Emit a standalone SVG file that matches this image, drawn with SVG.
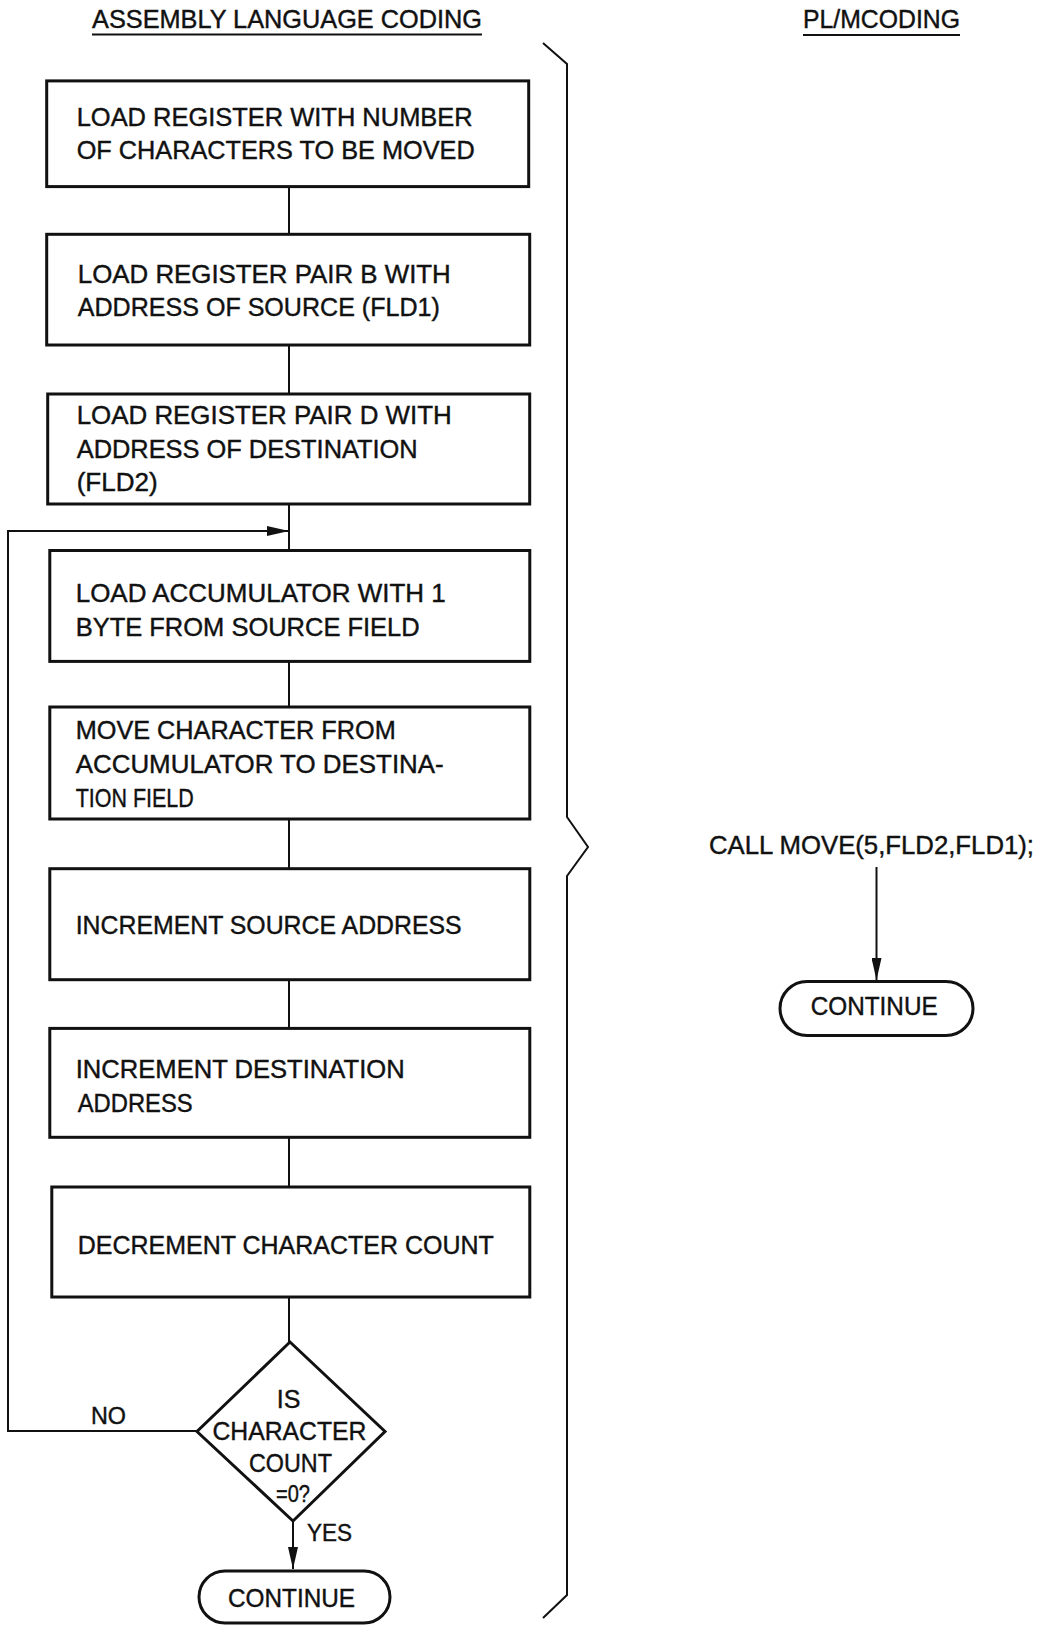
<svg xmlns="http://www.w3.org/2000/svg" width="1045" height="1625" viewBox="0 0 1045 1625">
<defs>
<style>
text{font-family:"Liberation Sans","DejaVu Sans",sans-serif;font-size:25px;fill:#111;stroke:#111;stroke-width:0.4;}
.s{font-size:23px;}
.box{fill:#fff;stroke:#111;stroke-width:3;}
.term{fill:#fff;stroke:#111;stroke-width:3;}
.conn{fill:none;stroke:#111;stroke-width:2;}
.brace{fill:none;stroke:#111;stroke-width:2;}
.ul{stroke:#111;stroke-width:2;}
.c{text-anchor:middle;}
</style>
<marker id="ah" viewBox="0 0 22 10" refX="22" refY="5" markerWidth="22" markerHeight="10" markerUnits="userSpaceOnUse" orient="auto">
<path d="M0,0 L22,5 L0,10 Z" fill="#111"/>
</marker>
</defs>
<rect width="1045" height="1625" fill="#fff"/>

<g id="titles">
<text x="92" y="28" textLength="390" lengthAdjust="spacingAndGlyphs">ASSEMBLY LANGUAGE CODING</text>
<line class="ul" x1="92" y1="34.5" x2="482" y2="34.5"/>
<text x="803" y="28" textLength="157" lengthAdjust="spacingAndGlyphs">PL/MCODING</text>
<line class="ul" x1="803" y1="35" x2="960" y2="35"/>
</g>

<g id="connectors">
<line class="conn" x1="289" y1="186.6" x2="289" y2="234.3"/>
<line class="conn" x1="289" y1="345" x2="289" y2="394"/>
<line class="conn" x1="289" y1="504" x2="289" y2="550.5"/>
<line class="conn" x1="289" y1="661.4" x2="289" y2="707"/>
<line class="conn" x1="289" y1="819" x2="289" y2="868.7"/>
<line class="conn" x1="289" y1="979.7" x2="289" y2="1028.4"/>
<line class="conn" x1="289" y1="1137.3" x2="289" y2="1187"/>
<line class="conn" x1="289" y1="1297" x2="289" y2="1342"/>
<polyline class="conn" points="197,1431 8,1431 8,531 289,531" marker-end="url(#ah)"/>
<line class="conn" x1="293" y1="1521" x2="293" y2="1569" marker-end="url(#ah)"/>
<line class="conn" x1="876.5" y1="867" x2="876.5" y2="980" marker-end="url(#ah)"/>
<text class="s" x="91" y="1424" textLength="35" lengthAdjust="spacingAndGlyphs">NO</text>
<text class="s" x="307" y="1541" textLength="45" lengthAdjust="spacingAndGlyphs">YES</text>
</g>

<g id="brace">
<polyline class="brace" points="543,43 567,64 567,817 588,847 567,876 567,1595 543,1618"/>
</g>

<g id="n1">
<rect class="box" x="46.7" y="80.9" width="482" height="105.7"/>
<text x="76.7" y="125.5" textLength="396" lengthAdjust="spacingAndGlyphs">LOAD REGISTER WITH NUMBER</text>
<text x="76.7" y="158.6" textLength="398" lengthAdjust="spacingAndGlyphs">OF CHARACTERS TO BE MOVED</text>
</g>
<g id="n2">
<rect class="box" x="46.7" y="234.3" width="483" height="110.7"/>
<text x="77.8" y="283" textLength="373" lengthAdjust="spacingAndGlyphs">LOAD REGISTER PAIR B WITH</text>
<text x="77.8" y="316" textLength="362" lengthAdjust="spacingAndGlyphs">ADDRESS OF SOURCE (FLD1)</text>
</g>
<g id="n3">
<rect class="box" x="47.7" y="394" width="482" height="110"/>
<text x="76.7" y="424" textLength="375" lengthAdjust="spacingAndGlyphs">LOAD REGISTER PAIR D WITH</text>
<text x="76.7" y="458" textLength="341" lengthAdjust="spacingAndGlyphs">ADDRESS OF DESTINATION</text>
<text x="76.7" y="491" textLength="81" lengthAdjust="spacingAndGlyphs">(FLD2)</text>
</g>
<g id="n4">
<rect class="box" x="49.8" y="550.5" width="480" height="110.9"/>
<text x="75.7" y="602" textLength="370" lengthAdjust="spacingAndGlyphs">LOAD ACCUMULATOR WITH 1</text>
<text x="75.7" y="635.5" textLength="344" lengthAdjust="spacingAndGlyphs">BYTE FROM SOURCE FIELD</text>
</g>
<g id="n5">
<rect class="box" x="49.8" y="707" width="480" height="112"/>
<text x="75.7" y="739" textLength="320" lengthAdjust="spacingAndGlyphs">MOVE CHARACTER FROM</text>
<text x="75.7" y="773" textLength="368" lengthAdjust="spacingAndGlyphs">ACCUMULATOR TO DESTINA-</text>
<text x="75.7" y="806.5" textLength="118" lengthAdjust="spacingAndGlyphs">TION FIELD</text>
</g>
<g id="n6">
<rect class="box" x="49.8" y="868.7" width="480" height="111"/>
<text x="75.7" y="934" textLength="386" lengthAdjust="spacingAndGlyphs">INCREMENT SOURCE ADDRESS</text>
</g>
<g id="n7">
<rect class="box" x="49.8" y="1028.4" width="480" height="108.9"/>
<text x="75.7" y="1078" textLength="329" lengthAdjust="spacingAndGlyphs">INCREMENT DESTINATION</text>
<text x="77.7" y="1112" textLength="115" lengthAdjust="spacingAndGlyphs">ADDRESS</text>
</g>
<g id="n8">
<rect class="box" x="51.8" y="1187" width="478" height="110"/>
<text x="77.8" y="1254" textLength="416" lengthAdjust="spacingAndGlyphs">DECREMENT CHARACTER COUNT</text>
</g>
<g id="decision">
<polygon class="box" points="290,1342 385,1431.5 293,1521 197,1431.5"/>
<text class="c" x="288.5" y="1408">IS</text>
<text class="c" x="289.5" y="1440" textLength="154" lengthAdjust="spacingAndGlyphs">CHARACTER</text>
<text class="c" x="290.5" y="1471.5" textLength="83" lengthAdjust="spacingAndGlyphs">COUNT</text>
<text class="c s" x="293" y="1501.5" textLength="34" lengthAdjust="spacingAndGlyphs">=0?</text>
</g>
<g id="end-asm">
<rect class="term" x="199" y="1571" width="191" height="52" rx="26" ry="26"/>
<text x="228" y="1607" textLength="127" lengthAdjust="spacingAndGlyphs">CONTINUE</text>
</g>
<g id="plm-call">
<text x="709" y="854" textLength="325" lengthAdjust="spacingAndGlyphs">CALL MOVE(5,FLD2,FLD1);</text>
</g>
<g id="end-plm">
<rect class="term" x="780" y="981.5" width="193" height="54" rx="27" ry="27"/>
<text x="810.7" y="1015" textLength="127" lengthAdjust="spacingAndGlyphs">CONTINUE</text>
</g>
</svg>
